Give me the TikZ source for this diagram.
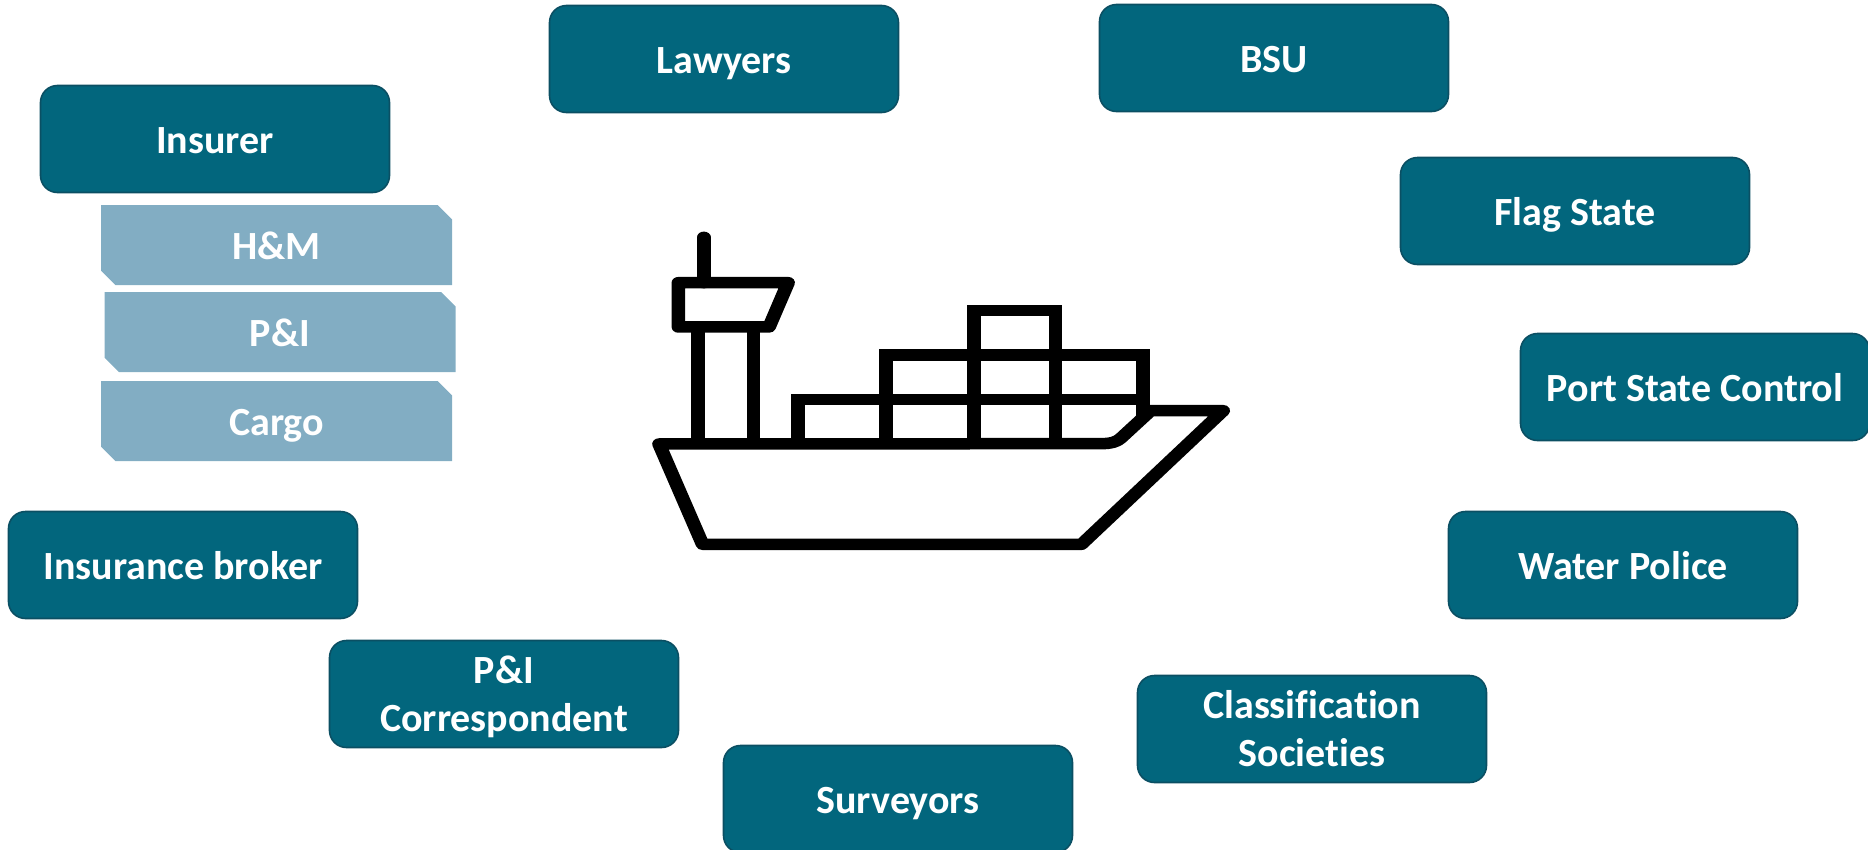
\documentclass[tikz,border=0pt]{standalone}
\usepackage{fontspec}
\setmainfont{Carlito}[Ligatures=NoCommon]
\usetikzlibrary{shapes.misc}
\definecolor{tealbox}{HTML}{02667D}
\definecolor{tealline}{HTML}{0B4F63}
\definecolor{lightbox}{HTML}{82ADC3}
\newcommand{\liftstrut}{\rule{0pt}{37pt}}
\tikzset{
  mainbox/.style={draw=tealline,line width=1.6pt,fill=tealbox,rounded corners=17pt,minimum width=349pt,minimum height=107pt,inner sep=0pt,text=white,font=\fontsize{40}{48}\selectfont\bfseries,text height=29pt,text depth=0pt},
  twoline/.style={draw=tealline,line width=1.6pt,fill=tealbox,rounded corners=17pt,minimum width=349pt,minimum height=107pt,inner sep=0pt,text=white,align=center,font=\fontsize{40}{48}\selectfont\bfseries,execute at end node={\rule[-10pt]{0pt}{10pt}}},
  subbox/.style={chamfered rectangle,chamfered rectangle corners={north east,south west},chamfered rectangle xsep=7.2pt,chamfered rectangle ysep=7.2pt,fill=lightbox,minimum width=351pt,minimum height=80pt,inner sep=0pt,text=white,text height=28pt,text depth=0pt,font=\fontsize{40}{48}\selectfont\bfseries},
  shipline/.style={line width=11.5pt,line join=round,line cap=round,draw=black},
  cargoline/.style={line width=11.5pt,line join=miter,line cap=butt,draw=black}
}
\begin{document}
\begin{tikzpicture}[x=1pt,y=-1pt]
\useasboundingbox (0,0) rectangle (1868,849);
\clip (0,0) rectangle (1868,849);
\node[mainbox] (insurer) at (215,139) {Insurer};
\node[mainbox] (lawyers) at (724,59) {Lawyers};
\node[mainbox] (bsu) at (1274,58) {BSU};
\node[mainbox] (flag) at (1575,211) {Flag State};
\node[mainbox] (psc) at (1695,387) {Port State Control};
\node[mainbox] (water) at (1623,565) {Water Police};
\node[twoline] (class) at (1312,729) {\liftstrut Classification\\Societies};
\node[mainbox] (surv) at (898,799) {Surveyors};
\node[twoline] (corr) at (504,694) {\liftstrut P\&I\\Correspondent};
\node[mainbox] (broker) at (183,565) {Insurance broker};
\node[subbox] (hm) at (276.5,245) {H\&M};
\node[subbox] (pi) at (280,332) {P\&I};
\node[subbox] (cargo) at (276.5,421) {Cargo};
\begin{scope}[transform canvas={xshift=640pt,yshift=-221pt,xscale=1.188},x=0.3333pt,y=-0.3333pt]
  % containers
  \draw[cargoline] (843,669) -- (843,268) -- (1049,268) -- (1049,669);
  \draw[cargoline] (621,669) -- (621,402) -- (1271,402) -- (1271,592);
  \draw[cargoline] (399,669) -- (399,536) -- (1271,536);
  % tower
  \draw[cargoline] (146,669) -- (146,318);
  \draw[cargoline] (287,669) -- (287,318);
  \draw[shipline] (161,49) -- (161,185);
  \draw[shipline] (97,185) -- (374,185) -- (326,318) -- (97,318) -- cycle;
  % hull
  \draw[shipline] (48,669) -- (158,970) -- (1115,970) -- (1473,569) -- (1290,569) -- (1214,652) .. controls (1205,662) and (1190,668) .. (1165,668) -- cycle;
\end{scope}
\end{tikzpicture}
\end{document}
